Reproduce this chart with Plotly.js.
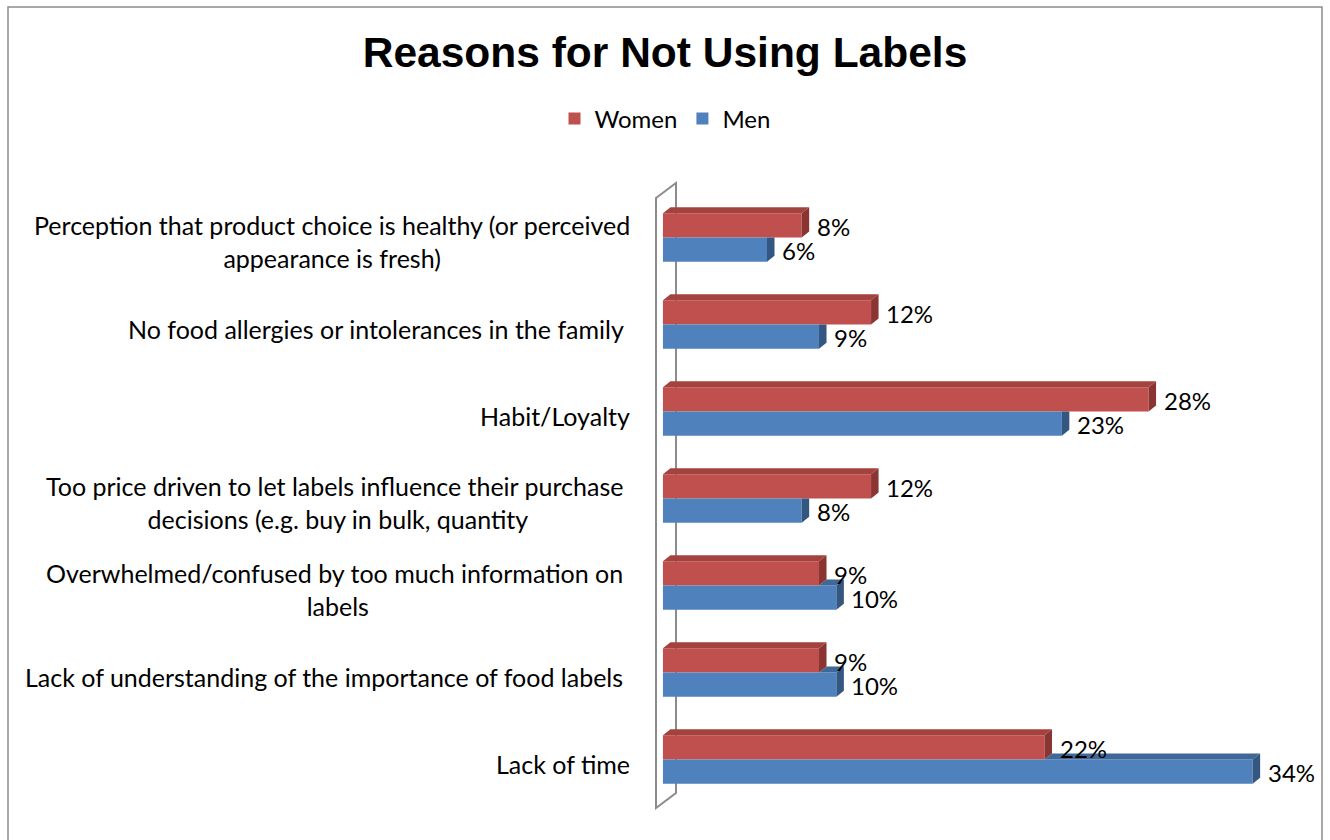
<!DOCTYPE html>
<html><head><meta charset="utf-8">
<script src="https://cdn.plot.ly/plotly-3.0.1.min.js"></script>
<style>html,body{margin:0;padding:0;background:#fff}#chart{width:1330px;height:840px}</style>
</head><body><div id="chart"></div>
<script>
// ---- data ----
const categories = [
  "Perception that product choice is healthy (or perceived<br>appearance is fresh)",
  "No food allergies or intolerances in the family&nbsp;",
  "Habit/Loyalty",
  "Too price driven to let labels influence their purchase&nbsp;<br>decisions (e.g. buy in bulk, quantity",
  "Overwhelmed/confused by too much information on&nbsp;<br>labels",
  "Lack of understanding of the importance of food labels&nbsp;",
  "Lack of time"
];
const women = [8, 12, 28, 12, 9, 9, 22];
const men = [6, 9, 23, 8, 10, 10, 34];
const seriesNames = ["Women", "Men"];
const chartTitle = "Reasons for Not Using Labels";

// ---- style ----
const FONT = "Lato, 'Liberation Sans', sans-serif";
const TXT = 24;
const CAT_TXT = 25;
const C = {
  wFront: "#C0504D", wTop: "#A3423F", wSide: "#8A3532",
  mFront: "#4F81BD", mTop: "#3F6898", mSide: "#345782"
};
const L = 656, R = 8, T = 194, B = 37, WIDTH = 1330, HEIGHT = 840;
const PW = WIDTH - L - R, PH = HEIGHT - T - B;
const XR = [-0.4, 38];
const BAR = 0.28;
const DX = 7.5 / (PW / (XR[1] - XR[0]));
const DY = 6 / (PH / categories.length);
const px = x => (x - L) / PW;
const py = y => 1 - (y - T) / PH;

const idx = categories.map((_, i) => i);

const traces = [
  {type: "bar", orientation: "h", name: seriesNames[0], x: women, y: idx,
   marker: {color: C.wFront, line: {width: 0}}, hoverinfo: "skip"},
  {type: "bar", orientation: "h", name: seriesNames[1], x: men, y: idx,
   marker: {color: C.mFront, line: {width: 0}}, hoverinfo: "skip"}
];

function poly(pts, color) {
  return {type: "path", xref: "x", yref: "y", layer: "above",
    path: "M" + pts.map(p => p[0] + "," + p[1]).join("L") + "Z",
    fillcolor: color, line: {width: 0}};
}

const shapes = [];
// back wall and outer frame (decoration)
shapes.push({type: "path", xref: "paper", yref: "paper", layer: "below",
  path: `M${px(656)},${py(198)}L${px(676)},${py(183)}L${px(676)},${py(793)}L${px(656)},${py(808)}Z`,
  line: {color: "#8C8C8C", width: 2}, fillcolor: "rgba(0,0,0,0)"});
shapes.push({type: "path", xref: "paper", yref: "paper", layer: "below",
  path: `M${px(8)},${py(841)}L${px(8)},${py(7)}L${px(1322)},${py(7)}L${px(1322)},${py(841)}`,
  line: {color: "#8C8C8C", width: 1.5}});

idx.forEach(i => {
  const w = women[i], m = men[i];
  // men (lower bar)
  let yt = i, yb = i + BAR;
  if (m > w) {
    shapes.push(poly([[w, yt], [w + DX, yt - DY], [m + DX, yt - DY], [m, yt]], C.mTop));
    shapes.push(poly([[m, yt], [m + DX, yt - DY], [m + DX, yb - DY], [m, yb]], C.mSide));
  } else {
    shapes.push(poly([[m, yt], [m + DX, yt], [m + DX, yb - DY], [m, yb]], C.mSide));
  }
  // women (upper bar)
  yt = i - BAR; yb = i;
  shapes.push(poly([[0, yt], [DX, yt - DY], [w + DX, yt - DY], [w, yt]], C.wTop));
  shapes.push(poly([[w, yt], [w + DX, yt - DY], [w + DX, yb - DY], [w, yb]], C.wSide));
});

const annotations = [];
idx.forEach(i => {
  annotations.push({xref: "paper", yref: "y", x: 0, y: i, xanchor: "right", yanchor: "middle",
    xshift: -24, yshift: -4, align: "center", showarrow: false, text: categories[i],
    font: {family: FONT, size: CAT_TXT, color: "#000"}});
  annotations.push({xref: "x", yref: "y", x: women[i], y: i - BAR / 2, xanchor: "left", yanchor: "middle",
    xshift: 13, yshift: -1, showarrow: false, text: women[i] + "%", font: {family: FONT, size: TXT, color: "#000"}});
  annotations.push({xref: "x", yref: "y", x: men[i], y: i + BAR / 2, xanchor: "left", yanchor: "middle",
    xshift: 13, yshift: -1, showarrow: false, text: men[i] + "%", font: {family: FONT, size: TXT, color: "#000"}});
});

const layout = {
  width: WIDTH, height: HEIGHT,
  margin: {l: L, r: R, t: T, b: B},
  paper_bgcolor: "#fff", plot_bgcolor: "rgba(0,0,0,0)",
  title: {text: "<b>" + chartTitle + "</b>", x: 0.5, xref: "container", xanchor: "center",
    y: 1 - 52 / HEIGHT, yref: "container", yanchor: "middle",
    font: {family: "'Liberation Sans', Arial, sans-serif", size: 42.5, color: "#000"}},
  barmode: "group", bargap: 1 - 2 * BAR, bargroupgap: 0,
  xaxis: {range: XR, showgrid: false, zeroline: false, showline: false, showticklabels: false, fixedrange: true},
  yaxis: {range: [categories.length - 0.5, -0.5], showgrid: false, zeroline: false, showline: false,
    showticklabels: false, fixedrange: true},
  showlegend: true,
  legend: {orientation: "h", xref: "container", yref: "container", x: 0.5, xanchor: "center",
    y: 1 - 119 / HEIGHT, yanchor: "middle", traceorder: "normal",
    font: {family: FONT, size: TXT, color: "#000"}},
  shapes: shapes, annotations: annotations,
  hovermode: false
};

Plotly.newPlot("chart", traces, layout, {displayModeBar: false, staticPlot: true});
</script>
</body></html>
